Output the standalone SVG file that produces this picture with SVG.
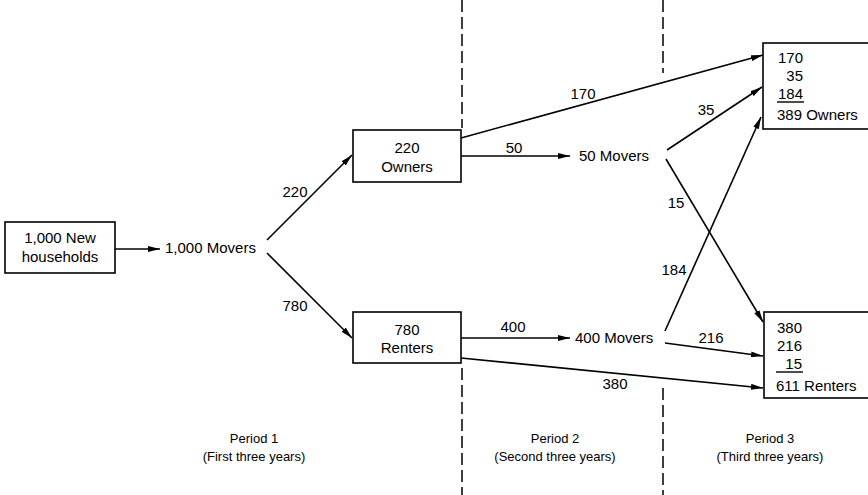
<svg xmlns="http://www.w3.org/2000/svg" width="868" height="495" viewBox="0 0 868 495">
<defs>
<marker id="ah" viewBox="0 0 12 6" refX="12" refY="3" markerWidth="12" markerHeight="6" markerUnits="userSpaceOnUse" orient="auto">
<path d="M0,0 L12,3 L0,6 Z" fill="#000"/>
</marker>
<style>
text{font-family:"Liberation Sans",Arial,sans-serif;font-size:15px;fill:#000}
.m{text-anchor:middle}
.e{text-anchor:end}
.s{font-size:13px}
.box{fill:#fff;stroke:#000;stroke-width:1.6}
.c{stroke:#000;stroke-width:1.6;fill:none;marker-end:url(#ah)}
.d{stroke:#000;stroke-width:1.5;stroke-dasharray:12 5}
.u{stroke:#000;stroke-width:1.4}
</style>
</defs>
<rect width="868" height="495" fill="#fff"/>
<g id="dividers">
<line class="d" x1="462" y1="0" x2="462" y2="128"/>
<line class="d" x1="462" y1="368" x2="462" y2="495"/>
<line class="d" x1="663" y1="0" x2="663" y2="73"/>
<line class="d" x1="663" y1="388" x2="663" y2="495"/>
</g>
<g id="connectors">
<line class="c" x1="115" y1="249" x2="160" y2="249"/>
<line class="c" x1="267" y1="240" x2="352" y2="155"/>
<line class="c" x1="267" y1="253" x2="352" y2="338"/>
<line class="c" x1="461" y1="138" x2="763" y2="55"/>
<line class="c" x1="461" y1="156" x2="570" y2="156"/>
<line class="c" x1="461" y1="338" x2="570" y2="338"/>
<line class="c" x1="461" y1="358" x2="763" y2="388"/>
<line class="c" x1="667" y1="150" x2="762" y2="87"/>
<line class="c" x1="666" y1="159" x2="763" y2="322"/>
<line class="c" x1="665" y1="331" x2="761" y2="117"/>
<line class="c" x1="665" y1="343" x2="763" y2="356"/>
<text class="m" x="295" y="197">220</text>
<text class="m" x="295" y="311">780</text>
<text class="m" x="514" y="153">50</text>
<text class="m" x="513" y="332">400</text>
<text class="m" x="583" y="99">170</text>
<text class="m" x="615" y="389">380</text>
<text class="m" x="706" y="115">35</text>
<text class="m" x="676" y="208">15</text>
<text class="m" x="674" y="275">184</text>
<text class="m" x="711" y="343">216</text>
</g>
<g id="new-households">
<rect class="box" x="5" y="222" width="110" height="51"/>
<text class="m" x="60" y="243">1,000 New</text>
<text class="m" x="60" y="262">households</text>
</g>
<g id="movers-1000">
<text x="165" y="253">1,000 Movers</text>
</g>
<g id="owners-220">
<rect class="box" x="353" y="130" width="108" height="52"/>
<text class="m" x="407" y="153">220</text>
<text class="m" x="407" y="172">Owners</text>
</g>
<g id="renters-780">
<rect class="box" x="353" y="312" width="108" height="51"/>
<text class="m" x="407" y="335">780</text>
<text class="m" x="407" y="353">Renters</text>
</g>
<g id="movers-50">
<text x="579" y="161">50 Movers</text>
</g>
<g id="movers-400">
<text x="575" y="343">400 Movers</text>
</g>
<g id="owners-389">
<rect class="box" x="763" y="43" width="110" height="86"/>
<text class="e" x="803" y="63">170</text>
<text class="e" x="803" y="81">35</text>
<text class="e" x="803" y="99">184</text>
<line class="u" x1="777" y1="102" x2="804" y2="102"/>
<text x="777" y="120">389 Owners</text>
</g>
<g id="renters-611">
<rect class="box" x="764" y="312" width="110" height="86"/>
<text class="e" x="802" y="333">380</text>
<text class="e" x="802" y="351">216</text>
<text class="e" x="802" y="369">15</text>
<line class="u" x1="776" y1="372" x2="803" y2="372"/>
<text x="776" y="391">611 Renters</text>
</g>
<g id="period-labels">
<text class="m s" x="254" y="443">Period 1</text>
<text class="m s" x="254" y="461">(First three years)</text>
<text class="m s" x="555" y="443">Period 2</text>
<text class="m s" x="555" y="461">(Second three years)</text>
<text class="m s" x="770" y="443">Period 3</text>
<text class="m s" x="770" y="461">(Third three years)</text>
</g>
</svg>
